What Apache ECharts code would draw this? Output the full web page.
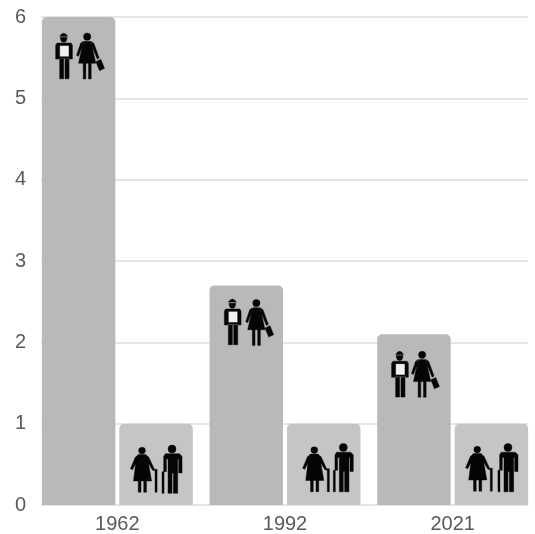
<!DOCTYPE html>
<html><head><meta charset="utf-8">
<style>html,body{margin:0;padding:0;background:#fff}#c{width:535px;height:534px;filter:blur(0.75px)}</style>
<script src="https://cdn.jsdelivr.net/npm/echarts@6/dist/echarts.min.js"></script>
</head><body><div id="c"></div>
<script>
const years = ['1962', '1992', '2021'];
const workers = [6, 2.7, 2.1];
const retirees = [1, 1, 1];
const yTicks = [0, 1, 2, 3, 4, 5, 6];

const P = {
 worker: 'path://M40 40Q52 22 64 40ZM42 43H62Q62 58 52 58Q42 58 42 43ZM32 60H74L78 66V107H70V105H38V107H28V66ZM40 67V100H68V67ZM40 107H52V165H40ZM56 107H68V165H56Z',
 woman: 'path://M113 40A11 11 0 1 0 135 40A11 11 0 1 0 113 40ZM114 54H134L140 75L150 120H98L108 75ZM112 54L110 68L98 99L92 96L104 60ZM136 54L144 60L160 104L154 107L138 68ZM112 120H120V167H112ZM128 120H136V167H128ZM150 115L165 108L176 135L161 142Z',
 oldWoman: 'path://M62 60A10 10 0 1 0 82 60A10 10 0 1 0 62 60ZM60 72H84L90 92L100 150H47L54 92ZM60 74L58 90L44 117L38 114L52 80ZM84 74L92 80L108 115L116 115V183H110V120L103 118L86 90ZM61 150H69V183H61ZM77 150H85V183H77Z',
 oldMan: 'path://M148 50A12 12 0 1 0 172 50A12 12 0 1 0 148 50ZM140 64H182L190 72V122H180V80H177V183H164V122H160V183H148V80H143V118H136V183H130V118H135V72Z'
};
const I = {
 worker: {size:[16.7,45.7], dx:[-53.3,-52.3,-52.7], dy:[39,36.5,40], v:workers},
 woman: {size:[28,46], dx:[-26.8,-25.3,-27.2], dy:[39,37,40], v:workers},
 oldWoman: {size:[26.7,45], dx:[26.4,31,26.3], dy:[46,45.5,45], v:retirees},
 oldMan: {size:[20,48.3], dx:[54.7,58.3,55.3], dy:[45.5,44,44], v:retirees}
};
function icons(key){
  const c = I[key];
  return {type:'scatter', xAxisIndex:1, yAxisIndex:1, z:5, symbol:P[key], symbolSize:c.size, silent:true,
    itemStyle:{color:'#050505', opacity:1, borderColor:'#050505', borderWidth:0.4},
    data:years.map((y,i)=>({value:[y,c.v[i]], symbolOffset:[c.dx[i],c.dy[i]]}))};
}
const shirts = {type:'scatter', xAxisIndex:1, yAxisIndex:1, z:4, symbol:'rect', symbolSize:[10,12], silent:true,
  itemStyle:{color:'#f0f0f0', opacity:1},
  data:years.map((y,i)=>({value:[y,workers[i]], symbolOffset:[I.worker.dx[i],I.worker.dy[i]-4.3]}))};

const chart = echarts.init(document.getElementById('c'), null, {renderer:'canvas'});
const yMax = yTicks[yTicks.length-1];
chart.setOption({
  animation:false, backgroundColor:'#fff',
  grid:[
    {left:41, width:487, top:17, height:488, outerBoundsMode:'none'},
    {left:33.5, width:503, top:17, height:488, outerBoundsMode:'none'}
  ],
  xAxis:[
    {gridIndex:0, type:'value', show:false, min:0, max:1},
    {gridIndex:1, type:'category', data:years,
     axisTick:{show:false}, axisLine:{show:false},
     axisLabel:{color:'#5a5a5a', fontSize:20, fontFamily:'Liberation Sans', margin:9}}
  ],
  yAxis:[
    {gridIndex:0, type:'value', min:0, max:yMax, interval:1,
     axisLine:{show:false}, axisTick:{show:false},
     splitLine:{lineStyle:{color:'#e6e6e6', width:2}},
     axisLabel:{color:'#5a5a5a', fontSize:20, fontFamily:'Liberation Sans', margin:15}},
    {gridIndex:1, type:'value', min:0, max:yMax, show:false, splitLine:{show:false}}
  ],
  series:[
    {type:'bar', name:'workers', xAxisIndex:1, yAxisIndex:1, data:workers, barWidth:73.5, barGap:'5.4%',
     itemStyle:{color:'#b9b9b9', borderRadius:[5,5,0,0]}, silent:true},
    {type:'bar', name:'retirees', xAxisIndex:1, yAxisIndex:1, data:retirees, barWidth:73.5, barGap:'5.4%',
     itemStyle:{color:'#c5c5c5', borderRadius:[5,5,0,0]}, silent:true},
    shirts, icons('worker'), icons('woman'), icons('oldWoman'), icons('oldMan')
  ]
});
</script></body></html>
